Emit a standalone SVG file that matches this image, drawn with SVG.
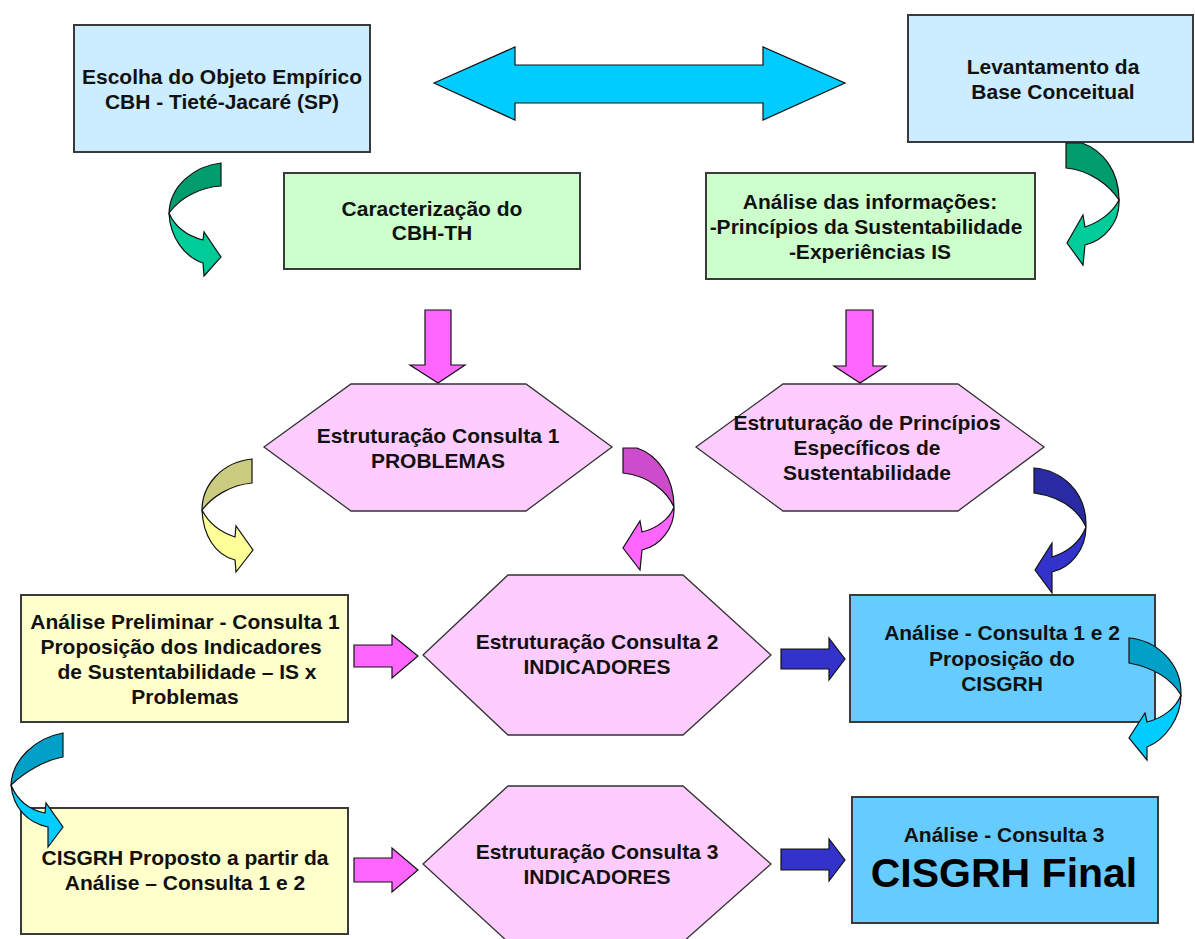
<svg xmlns="http://www.w3.org/2000/svg" width="1195" height="939" viewBox="0 0 1195 939">
<style>
.box{stroke:#3a3a3a;stroke-width:2}
.hex{fill:#FFCCFF;stroke:#333;stroke-width:1.3}
.t{font-family:"Liberation Sans",Arial,sans-serif;font-weight:bold;font-size:21px;fill:#111;text-anchor:middle}
.big{font-size:41px;fill:#000}
.arr{stroke:#111;stroke-width:1.2;stroke-linejoin:miter}
.lb{fill:#CCECFF}.gr{fill:#CCFFCC}.yl{fill:#FFFFCC}.bl{fill:#66CCFF}
</style>
<rect width="1195" height="939" fill="#fff"/>
<g id="n-escolha"><rect class="box lb" x="74" y="25" width="296" height="127"/>
<text class="t" x="222" y="84">Escolha do Objeto Empírico</text><text class="t" x="222" y="109">CBH - Tieté-Jacaré (SP)</text></g>
<g id="n-levantamento"><rect class="box lb" x="908" y="15" width="285" height="127"/>
<text class="t" x="1053" y="74">Levantamento da</text><text class="t" x="1053" y="99">Base Conceitual</text></g>
<g id="n-caracterizacao"><rect class="box gr" x="284" y="173" width="296" height="96"/>
<text class="t" x="432" y="216">Caracterização do</text><text class="t" x="432" y="240">CBH-TH</text></g>
<g id="n-analise-info"><rect class="box gr" x="706" y="173" width="329" height="106"/>
<text class="t" x="870" y="209">Análise das informações:</text><text class="t" x="866" y="234">-Princípios da Sustentabilidade</text><text class="t" x="870" y="259">-Experiências IS</text></g>
<g id="n-consulta1"><polygon class="hex" points="264,447 351,384 526,384 612,447 526,511 351,511"/>
<text class="t" x="438" y="443">Estruturação Consulta 1</text><text class="t" x="438" y="468">PROBLEMAS</text></g>
<g id="n-principios"><polygon class="hex" points="696,447 783,384 958,384 1044,447 958,511 783,511"/>
<text class="t" x="867" y="430">Estruturação de Princípios</text><text class="t" x="867" y="455">Específicos de</text><text class="t" x="867" y="480">Sustentabilidade</text></g>
<g id="n-preliminar"><rect class="box yl" x="21" y="595" width="327" height="127"/>
<text class="t" x="185" y="629">Análise Preliminar - Consulta 1</text><text class="t" x="181" y="654">Proposição dos Indicadores</text><text class="t" x="187" y="679">de Sustentabilidade – IS x</text><text class="t" x="185" y="704">Problemas</text></g>
<g id="n-consulta2"><polygon class="hex" points="423,655 508,575 683,575 771,655 683,735 508,735"/>
<text class="t" x="597" y="649">Estruturação Consulta 2</text><text class="t" x="597" y="674">INDICADORES</text></g>
<g id="n-analise12"><rect class="box bl" x="850" y="595" width="305" height="127"/>
<text class="t" x="1002" y="640">Análise - Consulta 1 e 2</text><text class="t" x="1002" y="666">Proposição do</text><text class="t" x="1002" y="691">CISGRH</text></g>
<g id="n-proposto"><rect class="box yl" x="21" y="808" width="327" height="126"/>
<text class="t" x="185" y="865">CISGRH Proposto a partir da</text><text class="t" x="185" y="890">Análise – Consulta 1 e 2</text></g>
<g id="n-consulta3"><polygon class="hex" points="423,864 508,786 683,786 771,864 683,942 508,942"/>
<text class="t" x="597" y="859">Estruturação Consulta 3</text><text class="t" x="597" y="884">INDICADORES</text></g>
<g id="n-final"><rect class="box bl" x="852" y="797" width="306" height="126"/>
<text class="t" x="1004" y="842">Análise - Consulta 3</text><text class="t big" x="1004" y="887">CISGRH Final</text></g>
<g id="connectors">
<polygon class="arr" fill="#00CCFF" points="434,83 515,47 515,65 763,65 763,47 845,83 763,120 763,103 515,103 515,120"/>
<polygon class="arr" fill="#FF66FF" points="425,310 451,310 451,365 465,365 438,383 410,365 425,365"/>
<polygon class="arr" fill="#FF66FF" points="846,310 873,310 873,366 886,366 860,383 834,366 846,366"/>
<polygon class="arr" fill="#FF66FF" points="354,645 392,645 392,635 418,656 392,678 392,667 354,667"/>
<polygon class="arr" fill="#FF66FF" points="354,858 392,858 392,848 418,870 392,892 392,882 354,882"/>
<polygon class="arr" fill="#3333CC" points="781,649 829,649 829,638 845,659 829,680 829,669 781,669"/>
<polygon class="arr" fill="#3333CC" points="781,849 829,849 829,839 845,860 829,881 829,870 781,870"/>
<path class="arr" fill="#009C6E" d="M221,163 C195,166 170,185 169,213 C180,198 200,187 221,186 Z"/>
<path class="arr" fill="#00CC99" d="M169,213 C170,238 185,257 203,263 L204,276 L221,257 L204,232 L203,240 C188,236 175,227 169,213 Z"/>
<path class="arr" fill="#009C6E" d="M1066,143 L1082,143 C1102,150 1119,170 1119,200 C1110,186 1090,170 1066,168 Z"/>
<path class="arr" fill="#00CC99" d="M1119,200 C1120,222 1105,240 1085,245 L1083,265 L1067,243 L1083,215 L1085,227 C1100,222 1113,212 1119,200 Z"/>
<path class="arr" fill="#CCCC80" d="M252,459 C222,462 202,485 202,510 C212,497 230,485 252,483 Z"/>
<path class="arr" fill="#FFFF99" d="M202,510 C203,535 215,555 235,560 L236,572 L253,550 L236,526 L235,537 C220,532 208,522 202,510 Z"/>
<path class="arr" fill="#CC4CCC" d="M623,448 L637,448 C658,455 674,478 674,507 C667,492 650,476 623,473 Z"/>
<path class="arr" fill="#FF66FF" d="M674,507 C675,528 660,546 642,550 L640,570 L623,548 L640,521 L642,532 C658,528 670,518 674,507 Z"/>
<path class="arr" fill="#2A2AA3" d="M1034,468 C1060,470 1087,490 1086,527 C1078,510 1062,497 1034,493 Z"/>
<path class="arr" fill="#3333CC" d="M1086,527 C1086,550 1070,568 1052,572 L1052,593 L1035,570 L1052,543 L1052,557 C1068,552 1080,542 1086,527 Z"/>
<path class="arr" fill="#00A0C8" d="M1129,638 C1155,640 1182,662 1181,695 C1172,680 1155,668 1129,663 Z"/>
<path class="arr" fill="#00CCFF" d="M1181,695 C1181,718 1165,740 1147,747 L1147,760 L1129,738 L1145,713 L1147,722 C1163,718 1176,708 1181,695 Z"/>
<path class="arr" fill="#00A0C8" d="M63,733 C35,738 12,760 11,785 C25,772 45,760 63,757 Z"/>
<path class="arr" fill="#00CCFF" d="M11,785 C13,808 28,823 48,827 L48,847 L63,827 L46,803 L45,813 C30,810 18,802 11,785 Z"/>
</g>
</svg>
